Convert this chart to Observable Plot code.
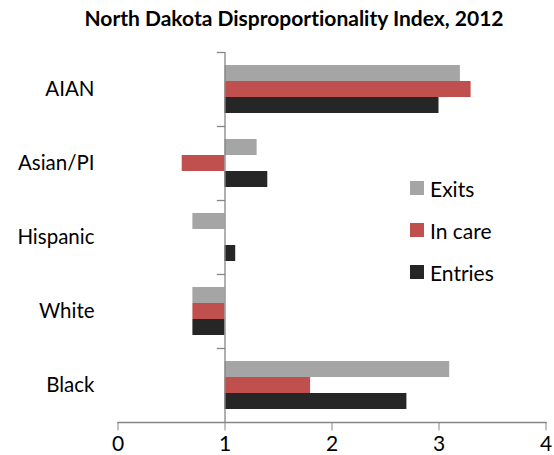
<!DOCTYPE html>
<html><head><meta charset="utf-8">
<script src="https://cdn.jsdelivr.net/npm/d3@7"></script>
<script src="https://cdn.jsdelivr.net/npm/@observablehq/plot@0.6"></script>
<style>
body{margin:0;background:#fff;}
#wrap{position:relative;width:554px;height:455px;font-family:Lato,sans-serif;font-variant-ligatures:none;}
#title{height:36px;line-height:36px;text-align:center;padding-left:34px;font-weight:bold;font-size:21px;color:#000;box-sizing:border-box;width:554px;font-variant-ligatures:none;}
#legend{position:absolute;left:410px;top:167px;}
#legend .lg-swatches{font-family:Lato,sans-serif !important;font-size:21px !important;margin:0 !important;min-height:0 !important;color:#000;}
#legend .lg-swatch{height:42px;margin:0 !important;padding:0 !important;display:flex;align-items:center;}
#legend .lg-swatch svg{margin-right:6px !important;}
svg text{font-variant-ligatures:none;}
</style></head><body>
<div id="wrap"><div id="title">North Dakota Disproportionality Index, 2012</div><div id="chart"></div><div id="legend"></div></div>
<script>
const categories = ["AIAN","Asian/PI","Hispanic","White","Black"];
const seriesNames = ["Exits","In care","Entries"];
const exits = [3.2,1.3,0.7,0.7,3.1];
const inCare = [3.3,0.6,null,0.7,1.8];
const entries = [3.0,1.4,1.1,0.7,2.7];
const xTicks = [0,1,2,3,4];
const colors = ["#a5a5a5","#c0504d","#262626"];
const baseline = 1;

const data = [];
categories.forEach((c,i)=>{
  [exits,inCare,entries].forEach((arr,j)=>{
    if (arr[i]!=null) data.push({category:c, series:seriesNames[j], value:arr[i]});
  });
});
const chart = Plot.plot({
  width:554, height:419, marginTop:14, marginBottom:32, marginLeft:117.5, marginRight:8.5,
  style:{fontFamily:"Lato, sans-serif", color:"#000", background:"#fff"},
  x:{domain:[0,4], axis:null},
  y:{domain:seriesNames, paddingInner:0, paddingOuter:0.76, axis:null},
  fy:{domain:categories, padding:0, axis:null},
  color:{domain:seriesNames, range:colors},
  marks:[
    Plot.barX(data,{x1:()=>baseline, x2:"value", y:"series", fy:"category", fill:"series"}),
    Plot.ruleX([baseline],{stroke:"#868686", strokeWidth:1.3}),
    Plot.frame({anchor:"top", insetLeft:99.5, insetRight:321.5, stroke:"#868686", strokeWidth:1.3}),
    Plot.frame({anchor:"bottom", facetAnchor:"bottom", stroke:"#868686", strokeWidth:1.3}),
    Plot.axisX({anchor:"bottom", ticks:xTicks, tickSize:8.5, tickPadding:5, fontSize:21, stroke:"#868686", fill:"#000", label:null, tickFormat:d=>d}),
    Plot.axisFy({anchor:"left", tickSize:0, tickPadding:23.5, fontSize:20.5, fill:"#000", label:null})
  ]
});
document.getElementById("chart").appendChild(chart);
const lg = Plot.legend({color:{domain:seriesNames, range:colors}, legend:"swatches", columns:1, swatchSize:14, className:"lg"});
document.getElementById("legend").appendChild(lg);
</script></body></html>
